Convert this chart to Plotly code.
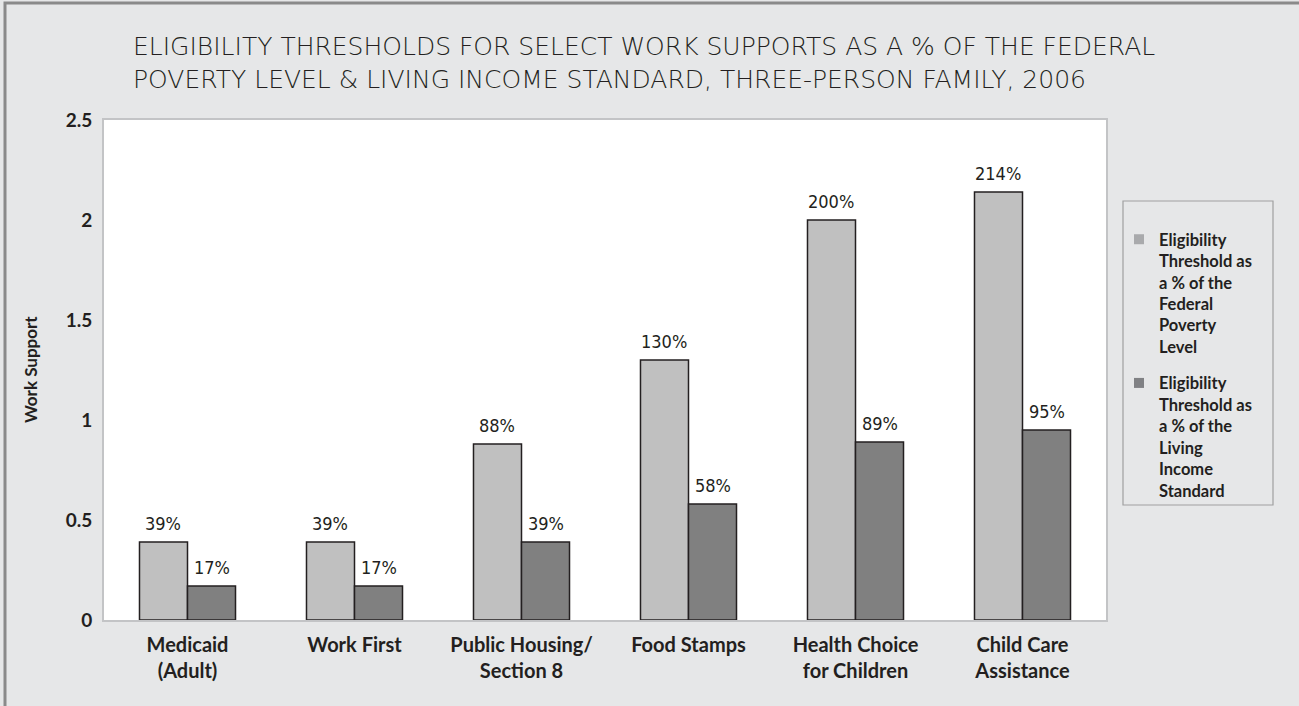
import plotly.graph_objects as go

categories = ["Medicaid<br>(Adult)", "Work First", "Public Housing/<br>Section 8",
              "Food Stamps", "Health Choice<br>for Children", "Child Care<br>Assistance"]
fpl_values = [0.39, 0.39, 0.88, 1.30, 2.00, 2.14]
lis_values = [0.17, 0.17, 0.39, 0.58, 0.89, 0.95]
fpl_labels = ["39%", "39%", "88%", "130%", "200%", "214%"]
lis_labels = ["17%", "17%", "39%", "58%", "89%", "95%"]
series_names = ["Eligibility<br>Threshold as<br>a % of the<br>Federal<br>Poverty<br>Level",
                "Eligibility<br>Threshold as<br>a % of the<br>Living<br>Income<br>Standard"]
y_ticks = [0, 0.5, 1, 1.5, 2, 2.5]
y_tick_text = ["0", "0.5", "1", "1.5", "2", "2.5"]
title_lines = ["ELIGIBILITY THRESHOLDS FOR SELECT WORK SUPPORTS AS A % OF THE FEDERAL",
               "POVERTY LEVEL & LIVING INCOME STANDARD, THREE-PERSON FAMILY, 2006"]

W, H = 1299, 706
L, R, T, B = 104, 193, 120, 86
PW = W - L - R
PH = H - T - B
BG = "#e6e7e8"
TXT = "#231f20"
LIGHT = "#c0c0c0"
DARK = "#808080"
LEG_LIGHT = "#a9aaac"
LEG_DARK = "#808184"
BOLD = "Lato"
NARROW = "DejaVu Sans Condensed, Liberation Sans Narrow, sans-serif"
THIN = "DejaVu Sans, sans-serif"
BARGAP = 0.425

def px_x(p):
    return (p - L) / PW

def px_y(p):
    return (H - B - p) / PH

fig = go.Figure()
for vals, col in [(fpl_values, LIGHT), (lis_values, DARK)]:
    fig.add_trace(go.Bar(x=categories, y=vals, showlegend=False,
                         marker=dict(color=col, line=dict(color=TXT, width=1.5)),
                         hoverinfo="skip"))
for i, (name, col) in enumerate([(series_names[0], LEG_LIGHT), (series_names[1], LEG_DARK)]):
    fig.add_trace(go.Scatter(x=[None], y=[None], mode="markers", name=name, legendgroup=f"g{i}",
                             marker=dict(symbol="square", size=10, color=col, line=dict(width=0))))

bar_px = PW / len(categories) * (1 - BARGAP) / 2
annotations = []
for labels, vals, shift in [(fpl_labels, fpl_values, -bar_px / 2), (lis_labels, lis_values, bar_px / 2)]:
    for c, v, t in zip(categories, vals, labels):
        annotations.append(dict(x=c, y=v, text=t, showarrow=False, xshift=shift, yshift=19,
                                font=dict(family=NARROW, size=18, color=TXT),
                                xref="x", yref="y"))

for i, line in enumerate(title_lines):
    annotations.append(dict(x=px_x(131), y=px_y(46 + 34 * i), xref="paper", yref="paper",
                            text=line, showarrow=False, xanchor="left", yanchor="middle",
                            font=dict(family=THIN, size=25, color=TXT, weight=200)))

annotations.append(dict(x=px_x(30), y=0.5, xref="paper", yref="paper", text="<b>Work Support</b>",
                        textangle=-90, showarrow=False, xanchor="center", yanchor="middle",
                        font=dict(family=BOLD, size=17, color=TXT)))

shapes = [
    dict(type="rect", xref="paper", yref="paper", x0=px_x(5), y0=px_y(760), x1=px_x(1340), y1=px_y(3),
         line=dict(color="#8a8a8a", width=3), fillcolor="rgba(0,0,0,0)", layer="below"),
    dict(type="rect", xref="paper", yref="paper", x0=px_x(1123), y0=px_y(505), x1=px_x(1273), y1=px_y(201),
         line=dict(color="#a0a0a0", width=1.2), fillcolor="rgba(0,0,0,0)"),
]

fig.update_layout(
    width=W, height=H,
    margin=dict(l=L, r=R, t=T, b=B, pad=0),
    paper_bgcolor=BG, plot_bgcolor="white",
    barmode="group", bargap=BARGAP, bargroupgap=0,
    showlegend=True,
    legend=dict(x=px_x(1119), y=px_y(222), xanchor="left", yanchor="top",
                bgcolor="rgba(0,0,0,0)", borderwidth=0, valign="top",
                font=dict(family=BOLD, size=16.5, color=TXT, weight="bold"),
                tracegroupgap=12, itemwidth=30),
    annotations=annotations, shapes=shapes,
    font=dict(family=BOLD, color=TXT),
)
fig.update_xaxes(type="category", range=[-0.5, len(categories) - 0.5],
                 showline=True, mirror=True, linecolor="#c3c4c6", linewidth=2,
                 ticks="outside", ticklen=6, tickcolor="rgba(0,0,0,0)",
                 tickfont=dict(family=BOLD, size=20, color=TXT, weight="bold"),
                 showgrid=False)
fig.update_yaxes(range=[0, 2.5], tickvals=y_ticks, ticktext=y_tick_text,
                 showline=True, mirror=True, linecolor="#c3c4c6", linewidth=2,
                 ticks="outside", ticklen=6, tickcolor="rgba(0,0,0,0)",
                 tickfont=dict(family=BOLD, size=19, color=TXT, weight="bold"),
                 showgrid=False, zeroline=False)

fig.write_html("out.html")
